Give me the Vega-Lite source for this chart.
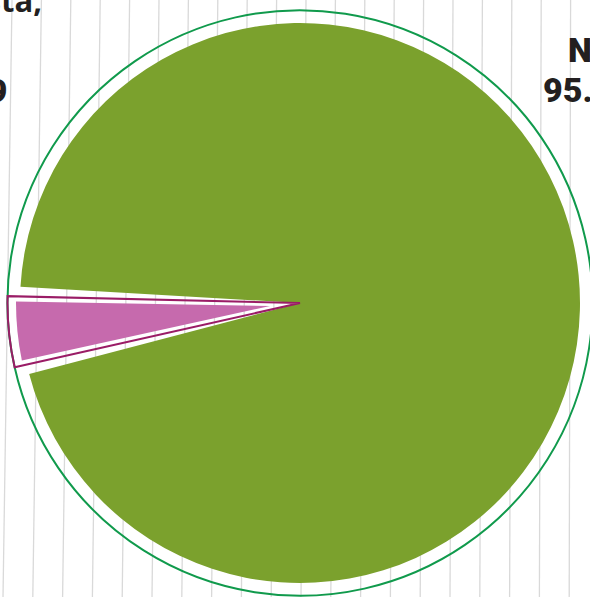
{
  "$schema": "https://vega.github.io/schema/vega-lite/v6.json",
  "width": 590,
  "height": 597,
  "padding": 0,
  "autosize": {"type": "none"},
  "background": "white",
  "config": {"view": {"stroke": null}},
  "datasets": {
    "pie": [
      {"cat": "NO", "v": 96.1},
      {"cat": "SÍ", "v": 3.9}
    ],
    "lines": [
      {"k": 0, "xt": 12, "xb": 3},
      {"k": 1, "xt": 41.4, "xb": 32.8},
      {"k": 2, "xt": 70.8, "xb": 62.6},
      {"k": 3, "xt": 100.2, "xb": 92.4},
      {"k": 4, "xt": 129.6, "xb": 122.2},
      {"k": 5, "xt": 159, "xb": 152},
      {"k": 6, "xt": 188.4, "xb": 181.8},
      {"k": 7, "xt": 217.8, "xb": 211.6},
      {"k": 8, "xt": 247.2, "xb": 241.4},
      {"k": 9, "xt": 276.6, "xb": 271.2},
      {"k": 10, "xt": 306, "xb": 301},
      {"k": 11, "xt": 335.4, "xb": 330.8},
      {"k": 12, "xt": 364.8, "xb": 360.6},
      {"k": 13, "xt": 394.2, "xb": 390.4},
      {"k": 14, "xt": 423.6, "xb": 420.2},
      {"k": 15, "xt": 453, "xb": 450},
      {"k": 16, "xt": 482.4, "xb": 479.8},
      {"k": 17, "xt": 511.8, "xb": 509.6},
      {"k": 18, "xt": 541.2, "xb": 539.4},
      {"k": 19, "xt": 570.6, "xb": 569.2}
    ],
    "labelsLeftAligned": [
      {"t": "NO", "x": 568, "y": 62},
      {"t": "95.3", "x": 543, "y": 102}
    ],
    "labelsRightAligned": [
      {"t": "3.9", "x": 7.5, "y": 103}
    ],
    "note": [
      {"t": "No sabe/No contesta,", "x": 42, "y": 12}
    ]
  },
  "layer": [
    {
      "data": {"name": "lines"},
      "mark": {"type": "rule", "color": "#d9d9d9", "strokeWidth": 1.3},
      "encoding": {
        "x": {"field": "xt", "type": "quantitative", "scale": {"domain": [0, 590], "nice": false, "zero": false}, "axis": null},
        "x2": {"field": "xb"},
        "y": {"datum": 0, "type": "quantitative", "scale": {"domain": [0, 597], "nice": false, "zero": false, "reverse": true}, "axis": null},
        "y2": {"datum": 597}
      }
    },
    {
      "data": {"name": "pie"},
      "transform": [
        {"stack": "v", "groupby": [], "as": ["v0", "v1"], "sort": [{"field": "cat", "order": "descending"}]},
        {"filter": "datum.cat === 'NO'"}
      ],
      "mark": {"type": "arc", "outerRadius": 280, "padAngle": 0.07, "color": "#7ba12d"},
      "encoding": {
        "theta": {"field": "v0", "type": "quantitative", "scale": {"domain": [0, 100], "range": [4.4908, 10.774]}},
        "theta2": {"field": "v1"},
        "x": {"datum": 300, "type": "quantitative"},
        "y": {"datum": 303, "type": "quantitative"}
      }
    },
    {
      "data": {"name": "pie"},
      "transform": [
        {"stack": "v", "groupby": [], "as": ["v0", "v1"], "sort": [{"field": "cat", "order": "descending"}]},
        {"filter": "datum.cat === 'SÍ'"}
      ],
      "mark": {"type": "arc", "outerRadius": 284, "innerRadius": 30, "padAngle": 0.036, "color": "#c66aad"},
      "encoding": {
        "theta": {"field": "v0", "type": "quantitative"},
        "theta2": {"field": "v1"},
        "x": {"datum": 300, "type": "quantitative"},
        "y": {"datum": 303, "type": "quantitative"}
      }
    },
    {
      "data": {"name": "pie"},
      "transform": [{"filter": "datum.cat === 'NO'"}],
      "mark": {"type": "arc", "outerRadius": 292.5, "fill": "white", "fillOpacity": 0, "stroke": "#109a4c", "strokeWidth": 2},
      "encoding": {
        "theta": {"datum": 0, "type": "quantitative"},
        "theta2": {"datum": 100},
        "x": {"datum": 300, "type": "quantitative"},
        "y": {"datum": 303, "type": "quantitative"}
      }
    },
    {
      "data": {"name": "pie"},
      "transform": [
        {"stack": "v", "groupby": [], "as": ["v0", "v1"], "sort": [{"field": "cat", "order": "descending"}]},
        {"filter": "datum.cat === 'SÍ'"}
      ],
      "mark": {"type": "arc", "outerRadius": 292.5, "fill": "white", "fillOpacity": 0, "stroke": "#9a1c66", "strokeWidth": 2, "strokeJoin": "miter"},
      "encoding": {
        "theta": {"field": "v0", "type": "quantitative"},
        "theta2": {"field": "v1"},
        "x": {"datum": 300, "type": "quantitative"},
        "y": {"datum": 303, "type": "quantitative"}
      }
    },
    {
      "data": {"name": "labelsLeftAligned"},
      "mark": {"type": "text", "align": "left", "baseline": "alphabetic", "font": "Roboto", "fontWeight": 900, "fontSize": 34, "color": "#231f20"},
      "encoding": {
        "x": {"field": "x", "type": "quantitative"},
        "y": {"field": "y", "type": "quantitative"},
        "text": {"field": "t"}
      }
    },
    {
      "data": {"name": "labelsRightAligned"},
      "mark": {"type": "text", "align": "right", "baseline": "alphabetic", "font": "Roboto", "fontWeight": 900, "fontSize": 34, "color": "#231f20"},
      "encoding": {
        "x": {"field": "x", "type": "quantitative"},
        "y": {"field": "y", "type": "quantitative"},
        "text": {"field": "t"}
      }
    },
    {
      "data": {"name": "note"},
      "mark": {"type": "text", "align": "right", "baseline": "alphabetic", "font": "Open Sans", "fontWeight": "bold", "fontSize": 31, "color": "#231f20"},
      "encoding": {
        "x": {"field": "x", "type": "quantitative"},
        "y": {"field": "y", "type": "quantitative"},
        "text": {"field": "t"}
      }
    }
  ]
}
